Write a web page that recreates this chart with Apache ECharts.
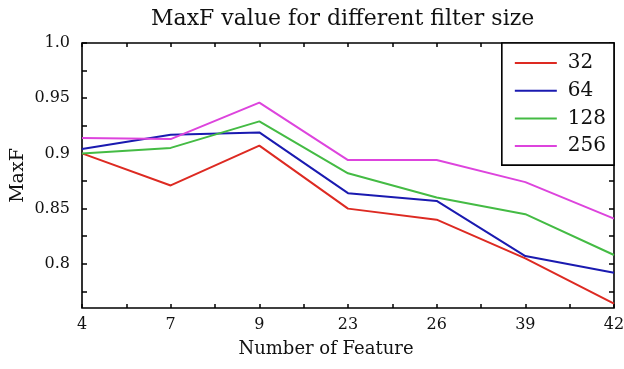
<!DOCTYPE html>
<html>
<head>
<meta charset="utf-8">
<script src="https://cdn.jsdelivr.net/npm/echarts@6/dist/echarts.min.js"></script>
<style>
  html, body { margin: 0; padding: 0; background: #fff; }
  #main { width: 624px; height: 369px; }
</style>
</head>
<body>
<div id="main"></div>
<script>
// number of features on the x axis
const features = ['4', '7', '9', '23', '26', '39', '42']
// MaxF for each filter size
const maxf32 = [0.900, 0.871, 0.907, 0.850, 0.840, 0.805, 0.764]
const maxf64 = [0.904, 0.917, 0.919, 0.864, 0.857, 0.807, 0.792]
const maxf128 = [0.900, 0.905, 0.929, 0.882, 0.860, 0.845, 0.808]
const maxf256 = [0.914, 0.913, 0.946, 0.894, 0.894, 0.874, 0.841]
const yLabels = [0.8, 0.85, 0.9, 0.95, 1.0]
const yTicks = [0.775, 0.8, 0.825, 0.85, 0.875, 0.9, 0.925, 0.95, 0.975, 1.0]
// half steps between features, only used for the small ticks
const xTickSlots = ['', '', '', '', '', '', '', '', '', '', '', '', '']

const serif = 'DejaVu Serif'
const colors = ['#dd2a22', '#1a1ab0', '#44bb44', '#dd44dd']

function mkSeries(name, data, i) {
  return {
    name: name,
    type: 'line',
    data: data,
    symbol: 'none',
    lineStyle: { width: 2, color: colors[i] },
    itemStyle: { color: colors[i] }
  }
}

const tickStyle = { show: true, inside: true, length: 5, lineStyle: { color: '#000', width: 1.5 } }

function tickAxis(pos) {
  return {
    type: 'category',
    data: xTickSlots,
    boundaryGap: false,
    position: pos,
    axisLine: { show: false },
    axisTick: { show: true, inside: true, length: 4, interval: 0, lineStyle: { color: '#000', width: 1.5 } },
    axisLabel: { show: false },
    splitLine: { show: false }
  }
}

const option = {
  backgroundColor: '#fff',
  animation: false,
  title: {
    text: 'MaxF value for different filter size',
    left: 146,
    top: 3,
    textStyle: { fontFamily: serif, fontSize: 22, fontWeight: 'normal', color: '#111' }
  },
  grid: {
    left: 82, right: 10, top: 43, bottom: 61,
    outerBoundsMode: 'none',
    show: true, borderColor: '#000', borderWidth: 1.6
  },
  legend: {
    orient: 'vertical',
    right: 10,
    top: 43,
    backgroundColor: '#fff',
    borderColor: '#000',
    borderWidth: 1.6,
    borderRadius: 0,
    padding: [10, 8, 9, 13],
    itemGap: 7.7,
    itemWidth: 42,
    itemHeight: 2,
    icon: 'rect',
    textStyle: { fontFamily: serif, fontSize: 20, color: '#111', lineHeight: 20, padding: [0, 0, 0, 6] },
    data: ['32', '64', '128', '256']
  },
  xAxis: [{
    type: 'category',
    data: features,
    boundaryGap: false,
    name: 'Number of Feature',
    nameLocation: 'middle',
    nameGap: 32,
    nameTextStyle: { fontFamily: serif, fontSize: 18, color: '#111', padding: [0, 44, 0, 0] },
    axisLine: { show: false },
    axisTick: { show: false },
    axisLabel: { fontFamily: serif, fontSize: 16, color: '#111', margin: 9 },
    splitLine: { show: false }
  }, tickAxis('bottom'), tickAxis('top')],
  yAxis: [{
    type: 'value',
    min: 0.76,
    max: 1.0,
    name: 'MaxF',
    nameLocation: 'middle',
    nameGap: 54,
    nameMoveOverlap: false,
    nameTextStyle: { fontFamily: serif, fontSize: 19, color: '#111' },
    axisLine: { show: false },
    axisTick: Object.assign({}, tickStyle, { customValues: yTicks }),
    axisLabel: {
      fontFamily: serif, fontSize: 16, color: '#111', margin: 12,
      customValues: yLabels,
      formatter: function (v) { return v === 1 ? '1.0' : String(+v.toFixed(2)) }
    },
    splitLine: { show: false }
  }, {
    type: 'value',
    min: 0.76,
    max: 1.0,
    position: 'right',
    axisLine: { show: false },
    axisTick: Object.assign({}, tickStyle, { customValues: yTicks }),
    axisLabel: { show: false },
    splitLine: { show: false }
  }],
  series: [
    mkSeries('32', maxf32, 0),
    mkSeries('64', maxf64, 1),
    mkSeries('128', maxf128, 2),
    mkSeries('256', maxf256, 3)
  ]
}

const chart = echarts.init(document.getElementById('main'))
chart.setOption(option)
</script>
</body>
</html>
